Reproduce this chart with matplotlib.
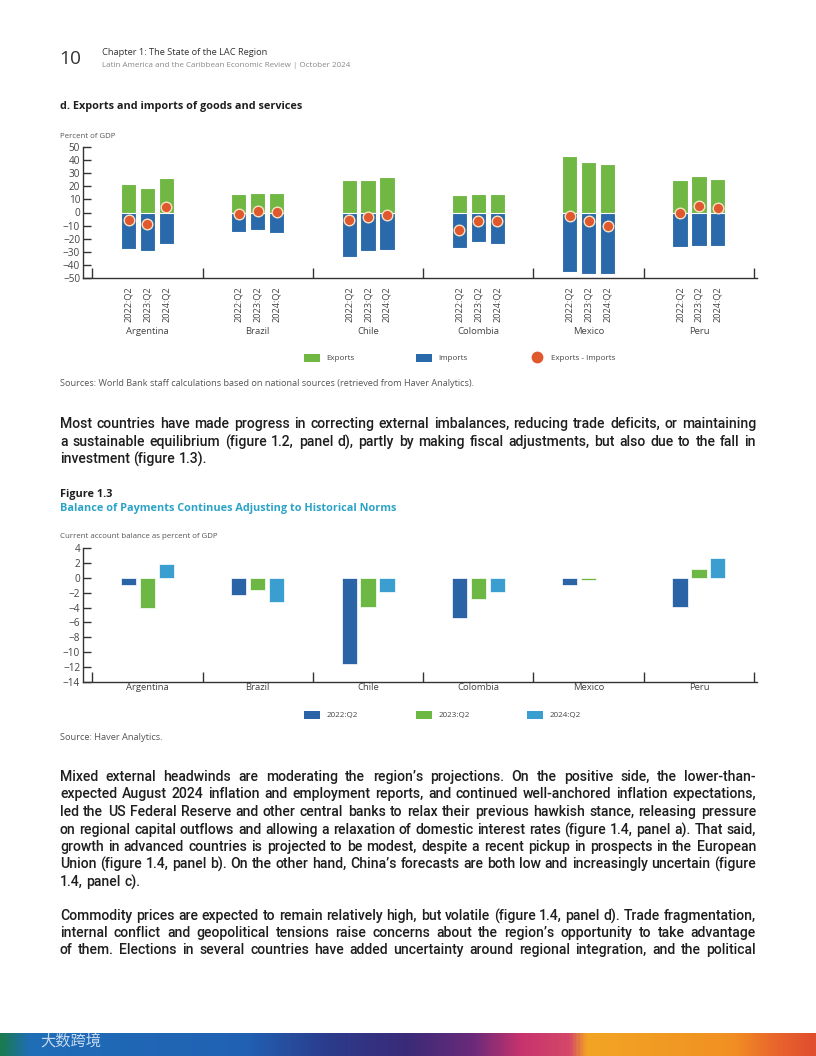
import numpy as np
import matplotlib
matplotlib.use("Agg")
import matplotlib.pyplot as plt
from matplotlib.patches import Patch
from matplotlib.lines import Line2D
from matplotlib.colors import LinearSegmentedColormap
from matplotlib.font_manager import FontProperties

# ---------------- data ----------------
countries = ["Argentina", "Brazil", "Chile", "Colombia", "Mexico", "Peru"]
periods = ["2022:Q2", "2023:Q2", "2024:Q2"]

exports = [
    [21.5, 19.0, 26.3],   # Argentina
    [14.0, 15.3, 15.3],   # Brazil
    [25.3, 25.3, 27.1],   # Chile
    [13.6, 14.1, 14.1],   # Colombia
    [43.2, 38.9, 37.1],   # Mexico
    [25.3, 27.9, 25.8],   # Peru
]
imports = [
    [-27.9, -29.7, -23.8],
    [-14.6, -13.6, -15.6],
    [-34.0, -29.4, -28.6],
    [-27.1, -23.0, -24.0],
    [-46.0, -47.3, -47.3],
    [-26.3, -25.8, -25.6],
]
net = [
    [-5.6, -9.2, 4.6],
    [-0.8, 1.5, 0.3],
    [-5.6, -3.3, -2.0],
    [-13.3, -6.9, -6.9],
    [-2.6, -6.9, -10.0],
    [-0.5, 4.9, 3.3],
]
current_account = [
    [-0.9, -4.0, 1.85],    # Argentina
    [-2.3, -1.7, -3.2],    # Brazil
    [-11.7, -3.9, -1.9],   # Chile
    [-5.4, -2.8, -1.9],    # Colombia
    [-1.0, -0.3, np.nan],  # Mexico
    [-3.9, 1.25, 2.75],    # Peru
]
top_yticks = list(range(-50, 51, 10))
bot_yticks = list(range(-14, 5, 2))

# ---------------- style ----------------
C_EXP = "#70B743"
C_IMP = "#2A69AA"
C_NET = "#E0582E"
C_22 = "#2A64A6"
C_23 = "#6DB844"
C_24 = "#3A9FD0"
TEAL = "#2BA3C6"
TXT = "#1E1E1E"
GRAY = "#555555"
CHART_FAMILY = ["Open Sans", "DejaVu Sans"]
HEAD_FAMILY = ["Open Sans", "DejaVu Sans"]
BODY_FAMILY = ["Roboto", "DejaVu Sans"]
BODY_WEIGHT = "medium"

plt.rcParams["font.family"] = CHART_FAMILY

W, H = 816, 1056
DPI = 100
fig = plt.figure(figsize=(W / DPI, H / DPI), dpi=DPI)
renderer = fig.canvas.get_renderer()


def fx(px):
    return px / W


def fy(py):
    return 1 - py / H


def fit_text(x0, x1, y, s, base=7.0, **kw):
    """Text placed at pixel x0, scaled so its width spans to pixel x1."""
    t = fig.text(fx(x0), fy(y), s, fontsize=base, va="center", ha="left", **kw)
    w = t.get_window_extent(renderer).width
    t.set_fontsize(base * (x1 - x0) / w)
    return t


# ---------------- header ----------------
fit_text(59, 81, 59, "10", base=15, color="#333333", family=HEAD_FAMILY)
fit_text(102, 269, 52.5, "Chapter 1: The State of the LAC Region", color="#333333",
         family=HEAD_FAMILY)
fit_text(102, 350, 65.5, "Latin America and the Caribbean Economic Review | October 2024",
         color="#888888", family=HEAD_FAMILY)
fit_text(60, 301, 107, "d. Exports and imports of goods and services", fontweight="bold",
         color=TXT, family=HEAD_FAMILY)
fit_text(60, 116, 137, "Percent of GDP", color=GRAY)

group_w = 110.3
ax_left_px, ax_right_px = 83, 757
xl0 = -0.5 - (92.3 - ax_left_px) / group_w
xl1 = xl0 + (ax_right_px - ax_left_px) / group_w
offsets = [-0.171, 0.0, 0.171]
bw = 0.138
xc = np.arange(len(countries))


def style_axis(ax):
    for s in ["top", "right"]:
        ax.spines[s].set_visible(False)
    for s in ["left", "bottom"]:
        ax.spines[s].set_color("#333333")
        ax.spines[s].set_linewidth(1.0)
    ax.set_xlim(xl0, xl1)
    ax.set_xticks(np.arange(len(countries) + 1) - 0.5, minor=True)
    ax.tick_params(axis="x", which="minor", direction="in", length=7, width=1.0,
                   color="#333333")
    ax.tick_params(axis="x", which="major", length=0)
    ax.tick_params(axis="y", direction="in", length=6, width=1.0, color="#333333",
                   labelsize=7.2, labelcolor="#444444", pad=2)


def legend_item(handle, x_px, y_px):
    fig.legend(handles=[handle], loc="center left", bbox_to_anchor=(fx(x_px), fy(y_px)),
               frameon=False, fontsize=5.8, handlelength=2.0, handleheight=1.15,
               handletextpad=0.75, borderpad=0, borderaxespad=0, labelcolor="#444444")


# ---------------- top chart ----------------
ax1 = fig.add_axes([fx(ax_left_px), fy(277.7), fx(ax_right_px - ax_left_px),
                    (277.7 - 147.3) / H])
exp_arr = np.array(exports)
imp_arr = np.array(imports)
net_arr = np.array(net)
pos_all, lab_all = [], []
for j, off in enumerate(offsets):
    xs = xc + off
    ax1.bar(xs, exp_arr[:, j], width=bw, color=C_EXP, edgecolor="white", linewidth=0.8,
            zorder=2)
    ax1.bar(xs, imp_arr[:, j], width=bw, color=C_IMP, edgecolor="white", linewidth=0.8,
            zorder=2)
    ax1.scatter(xs, net_arr[:, j], s=58, color=C_NET, edgecolor="#F6E3C4", linewidth=1.0,
                zorder=3)
for i in range(len(countries)):
    for j, off in enumerate(offsets):
        pos_all.append(xc[i] + off)
        lab_all.append(periods[j])
ax1.set_ylim(-50, 50)
ax1.set_yticks(top_yticks)
style_axis(ax1)
ax1.set_xticks(pos_all, lab_all, rotation=90, fontsize=6.6, color="#444444")
ax1.tick_params(axis="x", which="major", pad=6)
for i, c in enumerate(countries):
    ax1.text(xc[i], (277.7 - 331.5) / 130.4, c, transform=ax1.get_xaxis_transform(),
             ha="center", va="center", fontsize=6.8, color="#444444")

legend_item(Patch(facecolor=C_EXP, label="Exports"), 304, 358)
legend_item(Patch(facecolor=C_IMP, label="Imports"), 416, 358)
legend_item(Line2D([], [], marker="o", linestyle="none", markersize=7.5,
                   markerfacecolor=C_NET, markeredgecolor=C_NET, label="Exports - Imports"),
            529, 358)

fit_text(60, 479, 383, "Sources: World Bank staff calculations based on national sources "
         "(retrieved from Haver Analytics).", color=GRAY)

# ---------------- body text (justified word by word) ----------------
TEXT_L, TEXT_R = 60, 756


def measure(s, fs):
    t = fig.text(0, 0, s, fontsize=fs, family=BODY_FAMILY, fontweight=BODY_WEIGHT)
    w = t.get_window_extent(renderer).width
    t.remove()
    return w


def descent(s, fs):
    prop = FontProperties(family=BODY_FAMILY, weight=BODY_WEIGHT, size=fs)
    return renderer.get_text_width_height_descent(s, prop, ismath=False)[2]


def body_size(all_lines):
    base = 10.0
    widest = max(measure(l, base) for l in all_lines)
    return base * (TEXT_R - TEXT_L - 4) / widest


def justified(lines, y0, step, fs, last_justified=False):
    space_w = measure("a a", fs) - measure("aa", fs)
    lp_d = descent("lp", fs)
    for k, line in enumerate(lines):
        y = round(y0 + k * step)
        words = line.split(" ")
        objs = []
        for w in words:
            shift = max(0.0, descent(w, fs) - lp_d)
            objs.append(fig.text(0, fy(y + shift), w, fontsize=fs, family=BODY_FAMILY,
                                 fontweight=BODY_WEIGHT, color=TXT, va="baseline",
                                 ha="left"))
        widths = [o.get_window_extent(renderer).width for o in objs]
        is_last = (k == len(lines) - 1) and not last_justified
        if is_last or len(words) == 1:
            gap = space_w
        else:
            gap = (TEXT_R - TEXT_L - sum(widths)) / (len(words) - 1)
        x = TEXT_L
        for o, wdt in zip(objs, widths):
            o.set_x(fx(x))
            x += wdt + gap


para1 = [
    "Most countries have made progress in correcting external imbalances, reducing trade deficits, or maintaining",
    "a sustainable equilibrium (figure 1.2, panel d), partly by making fiscal adjustments, but also due to the fall in",
    "investment (figure 1.3).",
]
para2 = [
    "Mixed external headwinds are moderating the region\u2019s projections. On the positive side, the lower-than-",
    "expected August 2024 inflation and employment reports, and continued well-anchored inflation expectations,",
    "led the US Federal Reserve and other central banks to relax their previous hawkish stance, releasing pressure",
    "on regional capital outflows and allowing a relaxation of domestic interest rates (figure 1.4, panel a). That said,",
    "growth in advanced countries is projected to be modest, despite a recent pickup in prospects in the European",
    "Union (figure 1.4, panel b). On the other hand, China\u2019s forecasts are both low and increasingly uncertain (figure",
    "1.4, panel c).",
]
para3 = [
    "Commodity prices are expected to remain relatively high, but volatile (figure 1.4, panel d). Trade fragmentation,",
    "internal conflict and geopolitical tensions raise concerns about the region\u2019s opportunity to take advantage",
    "of them. Elections in several countries have added uncertainty around regional integration, and the political",
]
FS = body_size(para1[:2] + para2[:6] + para3)

justified(para1, 428, 17.5, FS)

# ---------------- figure 1.3 ----------------
fit_text(60, 112, 495, "Figure 1.3", fontweight="bold", color=TXT, family=HEAD_FAMILY)
fit_text(60, 395, 509, "Balance of Payments Continues Adjusting to Historical Norms",
         fontweight="bold", color=TEAL, family=HEAD_FAMILY)
fit_text(60, 219, 537, "Current account balance as percent of GDP", color=GRAY)

ax2 = fig.add_axes([fx(ax_left_px), fy(681.5), fx(ax_right_px - ax_left_px),
                    (681.5 - 548.3) / H])
ca = np.array(current_account)
for j, (off, col) in enumerate(zip(offsets, [C_22, C_23, C_24])):
    ax2.bar(xc + off, ca[:, j], width=bw, color=col, edgecolor="white", linewidth=0.5,
            zorder=2)
ax2.set_ylim(-14, 4)
ax2.set_yticks(bot_yticks)
style_axis(ax2)
ax2.set_xticks([])
for i, c in enumerate(countries):
    ax2.text(xc[i], -(688 - 681.5) / 133.2, c, transform=ax2.get_xaxis_transform(),
             ha="center", va="center", fontsize=6.8, color="#444444")

legend_item(Patch(facecolor=C_22, label=periods[0]), 304, 715)
legend_item(Patch(facecolor=C_23, label=periods[1]), 416, 715)
legend_item(Patch(facecolor=C_24, label=periods[2]), 527, 715)
fit_text(60, 164, 737, "Source: Haver Analytics.", color=GRAY)

justified(para2, 781, 17.5, FS)
justified(para3, 919.5, 17.5, FS, last_justified=True)

# ---------------- bottom decorative band ----------------
band = fig.add_axes([0, 0, 1, 23 / H])
band.axis("off")
stops = [(0.0, "#1B7A52"), (0.035, "#1F6DB8"), (0.30, "#2161B3"), (0.40, "#2B3C8C"),
         (0.50, "#3A2A78"), (0.58, "#6A2A7A"), (0.64, "#C8336E"), (0.70, "#D44868"),
         (0.72, "#F2A524"), (0.90, "#F19022"), (0.95, "#E9672C"), (1.0, "#E04E2E")]
cmap = LinearSegmentedColormap.from_list("band", stops)
grad = np.linspace(0, 1, 800)[None, :]
band.imshow(grad, aspect="auto", cmap=cmap, extent=[0, 1, 0, 1])
band.set_xlim(0, 1); band.set_ylim(0, 1)
fig.text(fx(40), fy(1041), "大数跨境", fontsize=11, color="white", alpha=0.75,
         family=["Noto Sans CJK SC", "DejaVu Sans"], va="center")

fig.savefig("out.png", dpi=DPI)
